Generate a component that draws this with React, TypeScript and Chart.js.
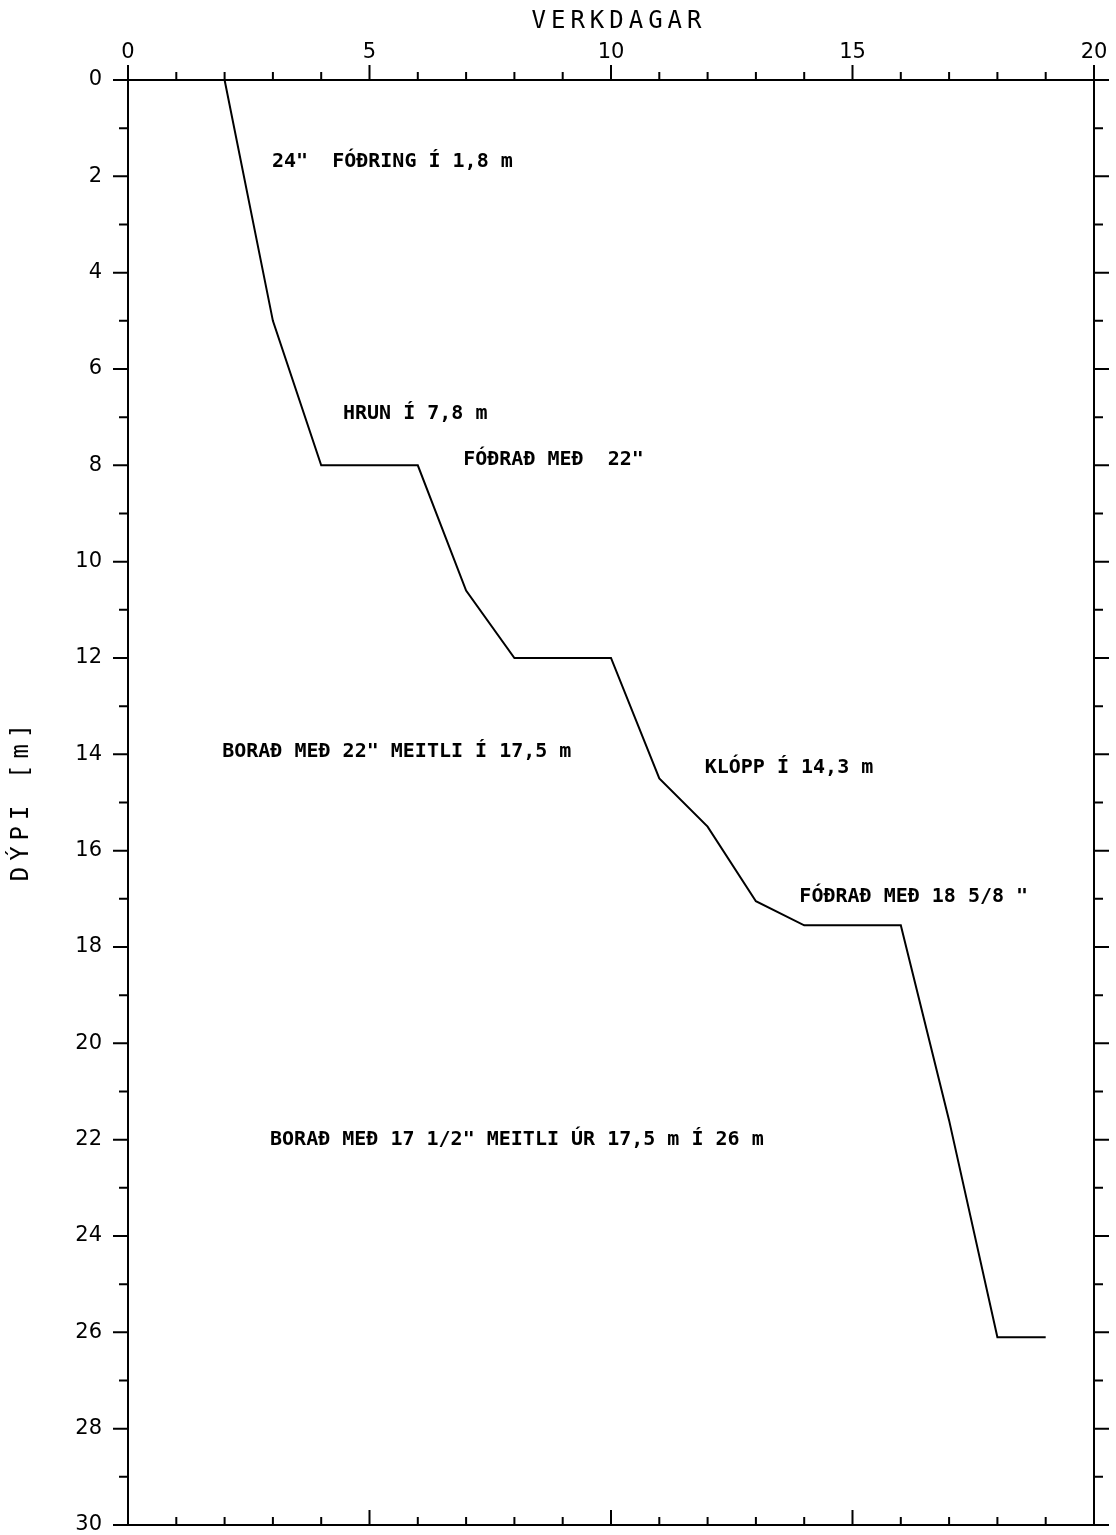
import React, { useEffect, useRef } from "react";
import { Chart, registerables } from "chart.js";

Chart.register(...registerables);

// Data
const workDays = [2, 3, 4, 6, 7, 8, 10, 11, 12, 13, 14, 16, 17, 18, 19];
const depthM = [0, 5, 8, 8, 10.6, 12, 12, 14.5, 15.5, 17.05, 17.55, 17.55, 21.6, 26.1, 26.1];

const xTitle = "VERKDAGAR";
const yTitle = "DÝPI [m]";

const noteTexts = [
  "24\"  FÓÐRING Í 1,8 m",
  "HRUN Í 7,8 m",
  "FÓÐRAÐ MEÐ  22\"",
  "BORAÐ MEÐ 22\" MEITLI Í 17,5 m",
  "KLÓPP Í 14,3 m",
  "FÓÐRAÐ MEÐ 18 5/8 \"",
  "BORAÐ MEÐ 17 1/2\" MEITLI ÚR 17,5 m Í 26 m",
];
const noteDays = [2.98, 4.45, 6.94, 1.95, 11.94, 13.9, 2.94];
const noteDepths = [1.7, 6.92, 7.89, 13.95, 14.28, 16.96, 22.0];

const X_MIN = 0, X_MAX = 20, X_STEP = 5;
const Y_MIN = 0, Y_MAX = 30, Y_STEP = 2;

const framePlugin = {
  id: "frame",
  afterDraw(chart: any) {
    const ctx = chart.ctx;
    const { left, right, top, bottom } = chart.chartArea;
    const xs = chart.scales.x;
    const ys = chart.scales.y;
    ctx.save();
    ctx.strokeStyle = "#000";
    ctx.lineWidth = 2;
    ctx.lineCap = "butt";
    ctx.beginPath();
    ctx.rect(left, top, right - left, bottom - top);
    ctx.stroke();
    ctx.beginPath();
    for (let v = X_MIN; v <= X_MAX; v += 1) {
      const px = xs.getPixelForValue(v);
      const major = v % X_STEP === 0;
      const len = major ? 15 : 8;
      ctx.moveTo(px, top);
      ctx.lineTo(px, top - len);
      ctx.moveTo(px, bottom);
      ctx.lineTo(px, bottom - len);
    }
    for (let v = Y_MIN; v <= Y_MAX; v += 1) {
      const py = ys.getPixelForValue(v);
      const major = v % Y_STEP === 0;
      const len = major ? 15 : 9;
      ctx.moveTo(left, py);
      ctx.lineTo(left - len, py);
      ctx.moveTo(right, py);
      ctx.lineTo(right + len, py);
    }
    ctx.stroke();

    // axis titles
    ctx.fillStyle = "#000";
    ctx.font = "24px 'DejaVu Sans Mono'";
    ctx.textBaseline = "middle";
    ctx.textAlign = "center";
    (ctx as any).letterSpacing = "5px";
    ctx.fillText(xTitle, (left + right) / 2 + 8, 22);
    ctx.save();
    ctx.translate(22, (top + bottom) / 2);
    ctx.rotate(-Math.PI / 2);
    (ctx as any).letterSpacing = "6px";
    ctx.fillText(yTitle, 3, 0);
    ctx.restore();

    // annotations
    (ctx as any).letterSpacing = "0px";
    ctx.font = "bold 20px 'DejaVu Sans Mono'";
    ctx.textAlign = "left";
    ctx.textBaseline = "middle";
    for (let i = 0; i < noteTexts.length; i++) {
      ctx.fillText(
        noteTexts[i],
        xs.getPixelForValue(noteDays[i]),
        ys.getPixelForValue(noteDepths[i])
      );
    }
    ctx.restore();
  },
};

export default function App() {
  const ref = useRef<HTMLCanvasElement | null>(null);
  useEffect(() => {
    if (!ref.current) return;
    const chart = new Chart(ref.current, {
      type: "line",
      data: {
        datasets: [
          {
            data: workDays.map((d, i) => ({ x: d, y: depthM[i] })),
            borderColor: "#000",
            borderWidth: 2,
            pointRadius: 0,
            tension: 0,
            fill: false,
          },
        ],
      },
      options: {
        animation: false,
        responsive: false,
        devicePixelRatio: 1,
        layout: { padding: { top: 0, right: 22, bottom: 10, left: 0 } },
        plugins: { legend: { display: false }, tooltip: { enabled: false } },
        scales: {
          x: {
            type: "linear",
            position: "top",
            min: X_MIN,
            max: X_MAX,
            ticks: {
              stepSize: X_STEP,
              color: "#000",
              font: { family: "'DejaVu Sans'", size: 21 },
              padding: 15,
            },
            grid: { display: false, drawTicks: false },
            border: { display: false },
            afterFit: (s: any) => {
              s.height = 80;
              s.paddingLeft = 0;
              s.paddingRight = 0;
              s.paddingTop = 0;
              s.paddingBottom = 0;
            },
          },
          y: {
            type: "linear",
            position: "left",
            reverse: true,
            min: Y_MIN,
            max: Y_MAX,
            ticks: {
              stepSize: Y_STEP,
              color: "#000",
              font: { family: "'DejaVu Sans'", size: 21 },
              padding: 26,
            },
            grid: { display: false, drawTicks: false },
            border: { display: false },
            afterFit: (s: any) => {
              s.width = 128;
              s.paddingLeft = 0;
              s.paddingRight = 0;
              s.paddingTop = 0;
              s.paddingBottom = 0;
            },
          },
        },
      },
      plugins: [framePlugin],
    } as any);
    return () => chart.destroy();
  }, []);
  return (
    <div style={{ position: "absolute", left: 0, top: 0, width: 1116, height: 1535, background: "#fff" }}>
      <canvas ref={ref} width={1116} height={1535} />
    </div>
  );
}
